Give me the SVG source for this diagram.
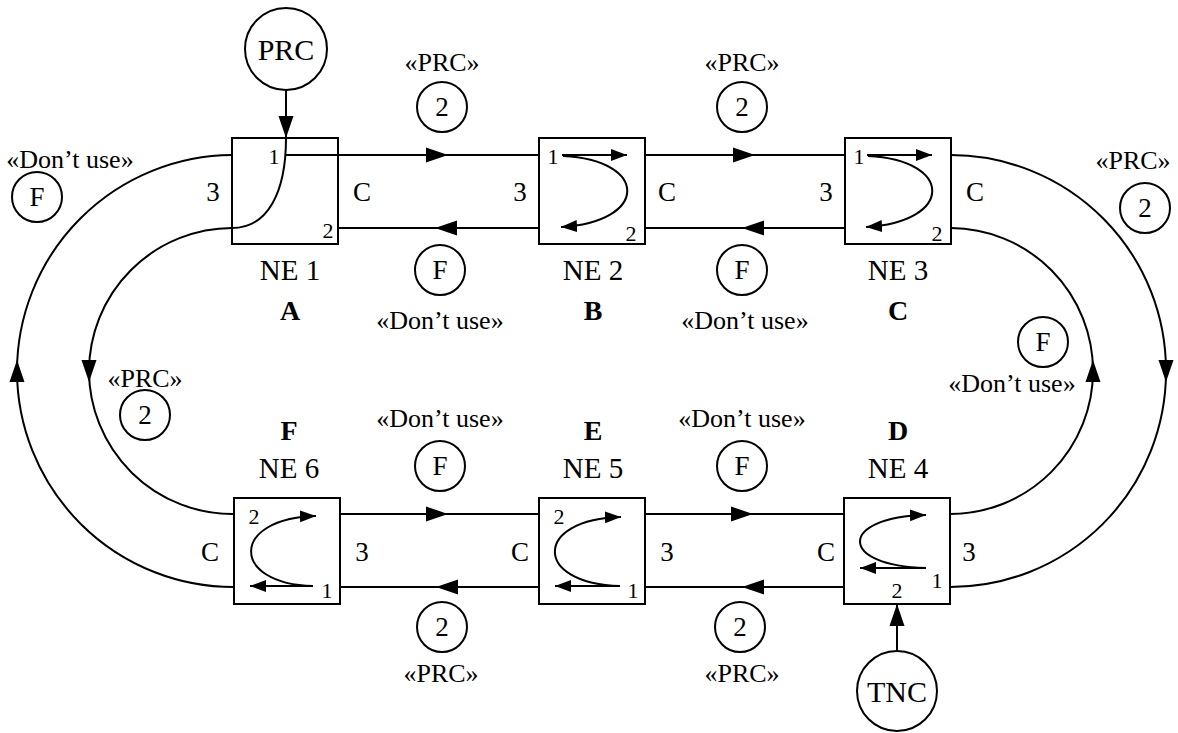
<svg xmlns="http://www.w3.org/2000/svg" width="1178" height="733" viewBox="0 0 1178 733">
<style>
text{font-family:"Liberation Serif","Times New Roman",serif;fill:#000;text-anchor:middle}
.lb{font-size:26px}
.pt{font-size:27px}
.nl{font-size:29px}
.big{font-size:30px}
.sm{font-size:22px}
.bold{font-size:28px;font-weight:bold}
.box{fill:#fff;stroke:#000;stroke-width:2}
.cir{fill:#fff;stroke:#000;stroke-width:2}
.ln{fill:none;stroke:#000;stroke-width:2}
</style>
<defs>
<marker id="ah" markerUnits="userSpaceOnUse" markerWidth="24" markerHeight="16" refX="22" refY="8" orient="auto"><path d="M0,0.5 L22,8 L0,15.5 z" fill="#000"/></marker>
<marker id="ahc" markerUnits="userSpaceOnUse" markerWidth="24" markerHeight="16" refX="11" refY="8" orient="auto"><path d="M0,0.5 L22,8 L0,15.5 z" fill="#000"/></marker>
<marker id="sa" markerUnits="userSpaceOnUse" markerWidth="18" markerHeight="14" refX="16" refY="6.5" orient="auto"><path d="M0,0.5 L16,6.5 L0,12.5 z" fill="#000"/></marker>
</defs>

<g id="PRC-source">
<circle class="cir" cx="286" cy="49" r="41"/>
<text class="big" x="286" y="60">PRC</text>
</g>
<g id="TNC-source">
<circle class="cir" cx="897" cy="691" r="40"/>
<text class="big" x="897" y="702">TNC</text>
</g>

<g id="NE1">
<rect class="box" x="232" y="138" width="106" height="106"/>
<path class="ln" d="M286,138 C286,192 268,228 232,228"/>
<text class="sm" x="274" y="164">1</text>
<text class="sm" x="328" y="238">2</text>
<text class="pt" x="213" y="201">3</text>
<text class="pt" x="362" y="201">C</text>
<text class="nl" x="290" y="280">NE 1</text>
<text class="bold" x="290" y="320">A</text>
</g>
<g id="NE2">
<rect class="box" x="539" y="138" width="106" height="106"/>
<path class="ln" d="M562,155 H627" marker-end="url(#sa)"/>
<path class="ln" d="M563,156 C649,160 649,222 561,227" marker-end="url(#sa)"/>
<text class="sm" x="553" y="164">1</text>
<text class="sm" x="631" y="241">2</text>
<text class="pt" x="520" y="201">3</text>
<text class="pt" x="667" y="201">C</text>
<text class="nl" x="593" y="280">NE 2</text>
<text class="bold" x="593" y="320">B</text>
</g>
<g id="NE3">
<rect class="box" x="845" y="138" width="106" height="106"/>
<path class="ln" d="M867,155 H932" marker-end="url(#sa)"/>
<path class="ln" d="M868,156 C954,160 954,222 866,227" marker-end="url(#sa)"/>
<text class="sm" x="859" y="164">1</text>
<text class="sm" x="937" y="241">2</text>
<text class="pt" x="826" y="201">3</text>
<text class="pt" x="975" y="201">C</text>
<text class="nl" x="898" y="280">NE 3</text>
<text class="bold" x="898" y="320">C</text>
</g>
<g id="NE4">
<rect class="box" x="844" y="498" width="106" height="106"/>
<path class="ln" d="M926,568 H860" marker-end="url(#sa)"/>
<path class="ln" d="M926,568 C838,566 838,517 926,515" marker-end="url(#sa)"/>
<text class="sm" x="937" y="588">1</text>
<text class="sm" x="897" y="598">2</text>
<text class="pt" x="826" y="561">C</text>
<text class="pt" x="969" y="561">3</text>
<text class="nl" x="898" y="478">NE 4</text>
<text class="bold" x="898" y="440">D</text>
</g>
<g id="NE5">
<rect class="box" x="539" y="498" width="106" height="106"/>
<path class="ln" d="M620,586 H555" marker-end="url(#sa)"/>
<path class="ln" d="M620,586 C533,584 533,519 621,517" marker-end="url(#sa)"/>
<text class="sm" x="559" y="524">2</text>
<text class="sm" x="633" y="598">1</text>
<text class="pt" x="520" y="561">C</text>
<text class="pt" x="667" y="561">3</text>
<text class="nl" x="593" y="478">NE 5</text>
<text class="bold" x="593" y="440">E</text>
</g>
<g id="NE6">
<rect class="box" x="234" y="498" width="106" height="106"/>
<path class="ln" d="M313,586 H250" marker-end="url(#sa)"/>
<path class="ln" d="M313,586 C230,584 230,518 316,516" marker-end="url(#sa)"/>
<text class="sm" x="254" y="524">2</text>
<text class="sm" x="327" y="598">1</text>
<text class="pt" x="210" y="561">C</text>
<text class="pt" x="362" y="561">3</text>
<text class="nl" x="289" y="478">NE 6</text>
<text class="bold" x="289" y="440">F</text>
</g>

<g id="connectors">
<path class="ln" d="M286,90 V138" marker-end="url(#ah)"/>
<path class="ln" d="M897,651 V604" marker-end="url(#ah)"/>
<path class="ln" d="M286,155 H448 H539" marker-mid="url(#ah)"/>
<path class="ln" d="M539,228 H435 H338" marker-mid="url(#ah)"/>
<path class="ln" d="M645,155 H755 H845" marker-mid="url(#ah)"/>
<path class="ln" d="M845,228 H742 H645" marker-mid="url(#ah)"/>
<path class="ln" d="M340,514 H448 H539" marker-mid="url(#ah)"/>
<path class="ln" d="M539,587 H436 H340" marker-mid="url(#ah)"/>
<path class="ln" d="M645,514 H753 H844" marker-mid="url(#ah)"/>
<path class="ln" d="M844,587 H742 H645" marker-mid="url(#ah)"/>
<path class="ln" d="M234,587 A216.5,216.5 0 0 1 17,371 A216.5,216.5 0 0 1 232,155" marker-mid="url(#ahc)"/>
<path class="ln" d="M232,228 A143.5,143.5 0 0 0 89,371 A143.5,143.5 0 0 0 234,514" marker-mid="url(#ahc)"/>
<path class="ln" d="M951,155 A215.5,215.5 0 0 1 1166,371 A215.5,215.5 0 0 1 950,587" marker-mid="url(#ahc)"/>
<path class="ln" d="M950,514 A143,143 0 0 0 1093,371 A143,143 0 0 0 951,228" marker-mid="url(#ahc)"/>
</g>

<g id="labels">
<text class="lb" x="442" y="71">«PRC»</text>
<circle class="cir" cx="442" cy="107" r="25"/><text class="pt" x="442" y="116">2</text>
<circle class="cir" cx="440" cy="270" r="25"/><text class="pt" x="440" y="279">F</text>
<text class="lb" x="440" y="329">«Don’t use»</text>

<text class="lb" x="742" y="71">«PRC»</text>
<circle class="cir" cx="742" cy="107" r="25"/><text class="pt" x="742" y="116">2</text>
<circle class="cir" cx="742" cy="270" r="25"/><text class="pt" x="742" y="279">F</text>
<text class="lb" x="745" y="329">«Don’t use»</text>

<text class="lb" x="440" y="427">«Don’t use»</text>
<circle class="cir" cx="440" cy="466" r="25"/><text class="pt" x="440" y="475">F</text>
<circle class="cir" cx="442" cy="627" r="25"/><text class="pt" x="442" y="636">2</text>
<text class="lb" x="441" y="682">«PRC»</text>

<text class="lb" x="742" y="427">«Don’t use»</text>
<circle class="cir" cx="742" cy="466" r="25"/><text class="pt" x="742" y="475">F</text>
<circle class="cir" cx="740" cy="627" r="25"/><text class="pt" x="740" y="636">2</text>
<text class="lb" x="742" y="682">«PRC»</text>

<text class="lb" x="70" y="168">«Don’t use»</text>
<circle class="cir" cx="37" cy="197" r="25"/><text class="pt" x="37" y="206">F</text>

<text class="lb" x="1133" y="169">«PRC»</text>
<circle class="cir" cx="1145" cy="208" r="25"/><text class="pt" x="1145" y="217">2</text>

<text class="lb" x="145" y="387">«PRC»</text>
<circle class="cir" cx="145" cy="415" r="25"/><text class="pt" x="145" y="424">2</text>

<circle class="cir" cx="1043" cy="342" r="25"/><text class="pt" x="1043" y="351">F</text>
<text class="lb" x="1012" y="392">«Don’t use»</text>
</g>
</svg>
